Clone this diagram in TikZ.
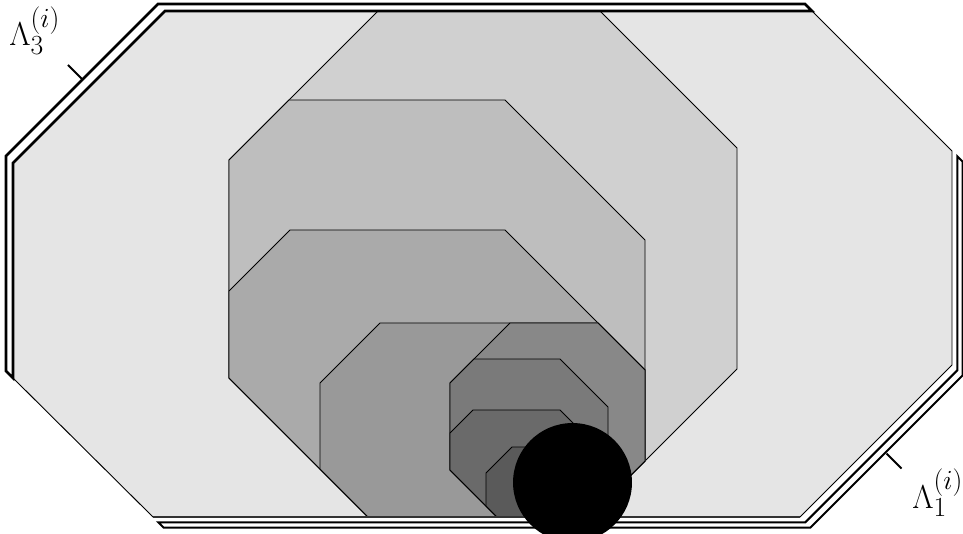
\documentclass[tikz,border=0pt]{standalone}
\definecolor{gA}{RGB}{229,229,229}
\definecolor{gB}{RGB}{208,208,208}
\definecolor{gC}{RGB}{190,190,190}
\definecolor{gD}{RGB}{170,170,170}
\definecolor{gE}{RGB}{153,153,153}
\definecolor{gF}{RGB}{136,136,136}
\definecolor{gG}{RGB}{122,122,122}
\definecolor{gH}{RGB}{106,106,106}
\definecolor{gI}{RGB}{90,90,90}
\begin{document}
\begin{tikzpicture}[x=0.75pt,y=-0.75pt,
  region/.style={draw=black,line width=0.7pt,line join=miter},
  stripA/.style={draw=black,fill=white,line width=1.9pt,line join=miter},
  stripB/.style={draw=black,fill=white,line width=1.5pt,line join=miter},
  tickmark/.style={draw=black,line width=1.5pt},
  lab/.style={anchor=base west,inner sep=0pt,font=\Huge}]
\useasboundingbox (0,0) rectangle (963,534);
% outer octagon
\path[region,fill=gA] (13,163) -- (165,11) -- (812,11) -- (952,151) -- (952,365) -- (800,517) -- (153,517) -- (13,378) -- cycle;
% nested regions
\path[region,fill=gB] (229,160) -- (378,11) -- (600,11) -- (737,148) -- (737,369) -- (589,517) -- (368,517) -- (229,378) -- cycle;
\path[region,fill=gC] (229,160) -- (289,100) -- (505,100) -- (645,240) -- (645,461) -- (589,517) -- (368,517) -- (229,378) -- cycle;
\path[region,fill=gD] (229,291) -- (290,230) -- (505,230) -- (645,370) -- (645,461) -- (589,517) -- (368,517) -- (229,378) -- cycle;
\path[region,fill=gE] (320,383) -- (380,323) -- (598,323) -- (645,370) -- (645,461) -- (589,517) -- (368,517) -- (320,469) -- cycle;
\path[region,fill=gF] (450,383) -- (510,323) -- (598,323) -- (645,370) -- (645,461) -- (589,517) -- (497,517) -- (450,470) -- cycle;
\path[region,fill=gG] (450,383) -- (474,359) -- (560,359) -- (608,407) -- (608,498) -- (589,517) -- (497,517) -- (450,470) -- cycle;
\path[region,fill=gH] (450,433) -- (473,410) -- (560,410) -- (608,458) -- (608,498) -- (589,517) -- (497,517) -- (450,470) -- cycle;
\path[region,fill=gI] (486,473) -- (512,447) -- (560,447) -- (595,482) -- (595,511) -- (589,517) -- (497,517) -- (486,506) -- cycle;
% bottom edge of outer octagon
\draw[line width=1.4pt,draw=black!80] (153,517) -- (800,517);
% Lambda_3 boundary strip
\path[stripA] (13,378) -- (13,163) -- (165,11) -- (812,11) -- (805,4) -- (158,4) -- (6,156) -- (6,371) -- cycle;
% Lambda_1 boundary strip
\path[stripB] (158.3,522.3) -- (805.3,522.3) -- (957.3,370.3) -- (957.3,156.3) -- (962.5,161.5) -- (962.5,375.5) -- (810.5,527.5) -- (163.5,527.5) -- cycle;
% ticks
\coordinate (t3a) at (82.5,79.5);
\coordinate (t3b) at (68,65);
\coordinate (t1a) at (886.5,453.5);
\coordinate (t1b) at (901.5,468.5);
\draw[tickmark] (t3a) -- (t3b);
\draw[tickmark] (t1a) -- (t1b);
% labels
\node[lab] (L3) at (9,46) {$\Lambda_3^{(i)}$};
\node[lab] (L1) at (912,508) {$\Lambda_1^{(i)}$};
% black disk
\fill[black] (572.5,482.5) circle[radius=44.6pt];
\end{tikzpicture}
\end{document}
